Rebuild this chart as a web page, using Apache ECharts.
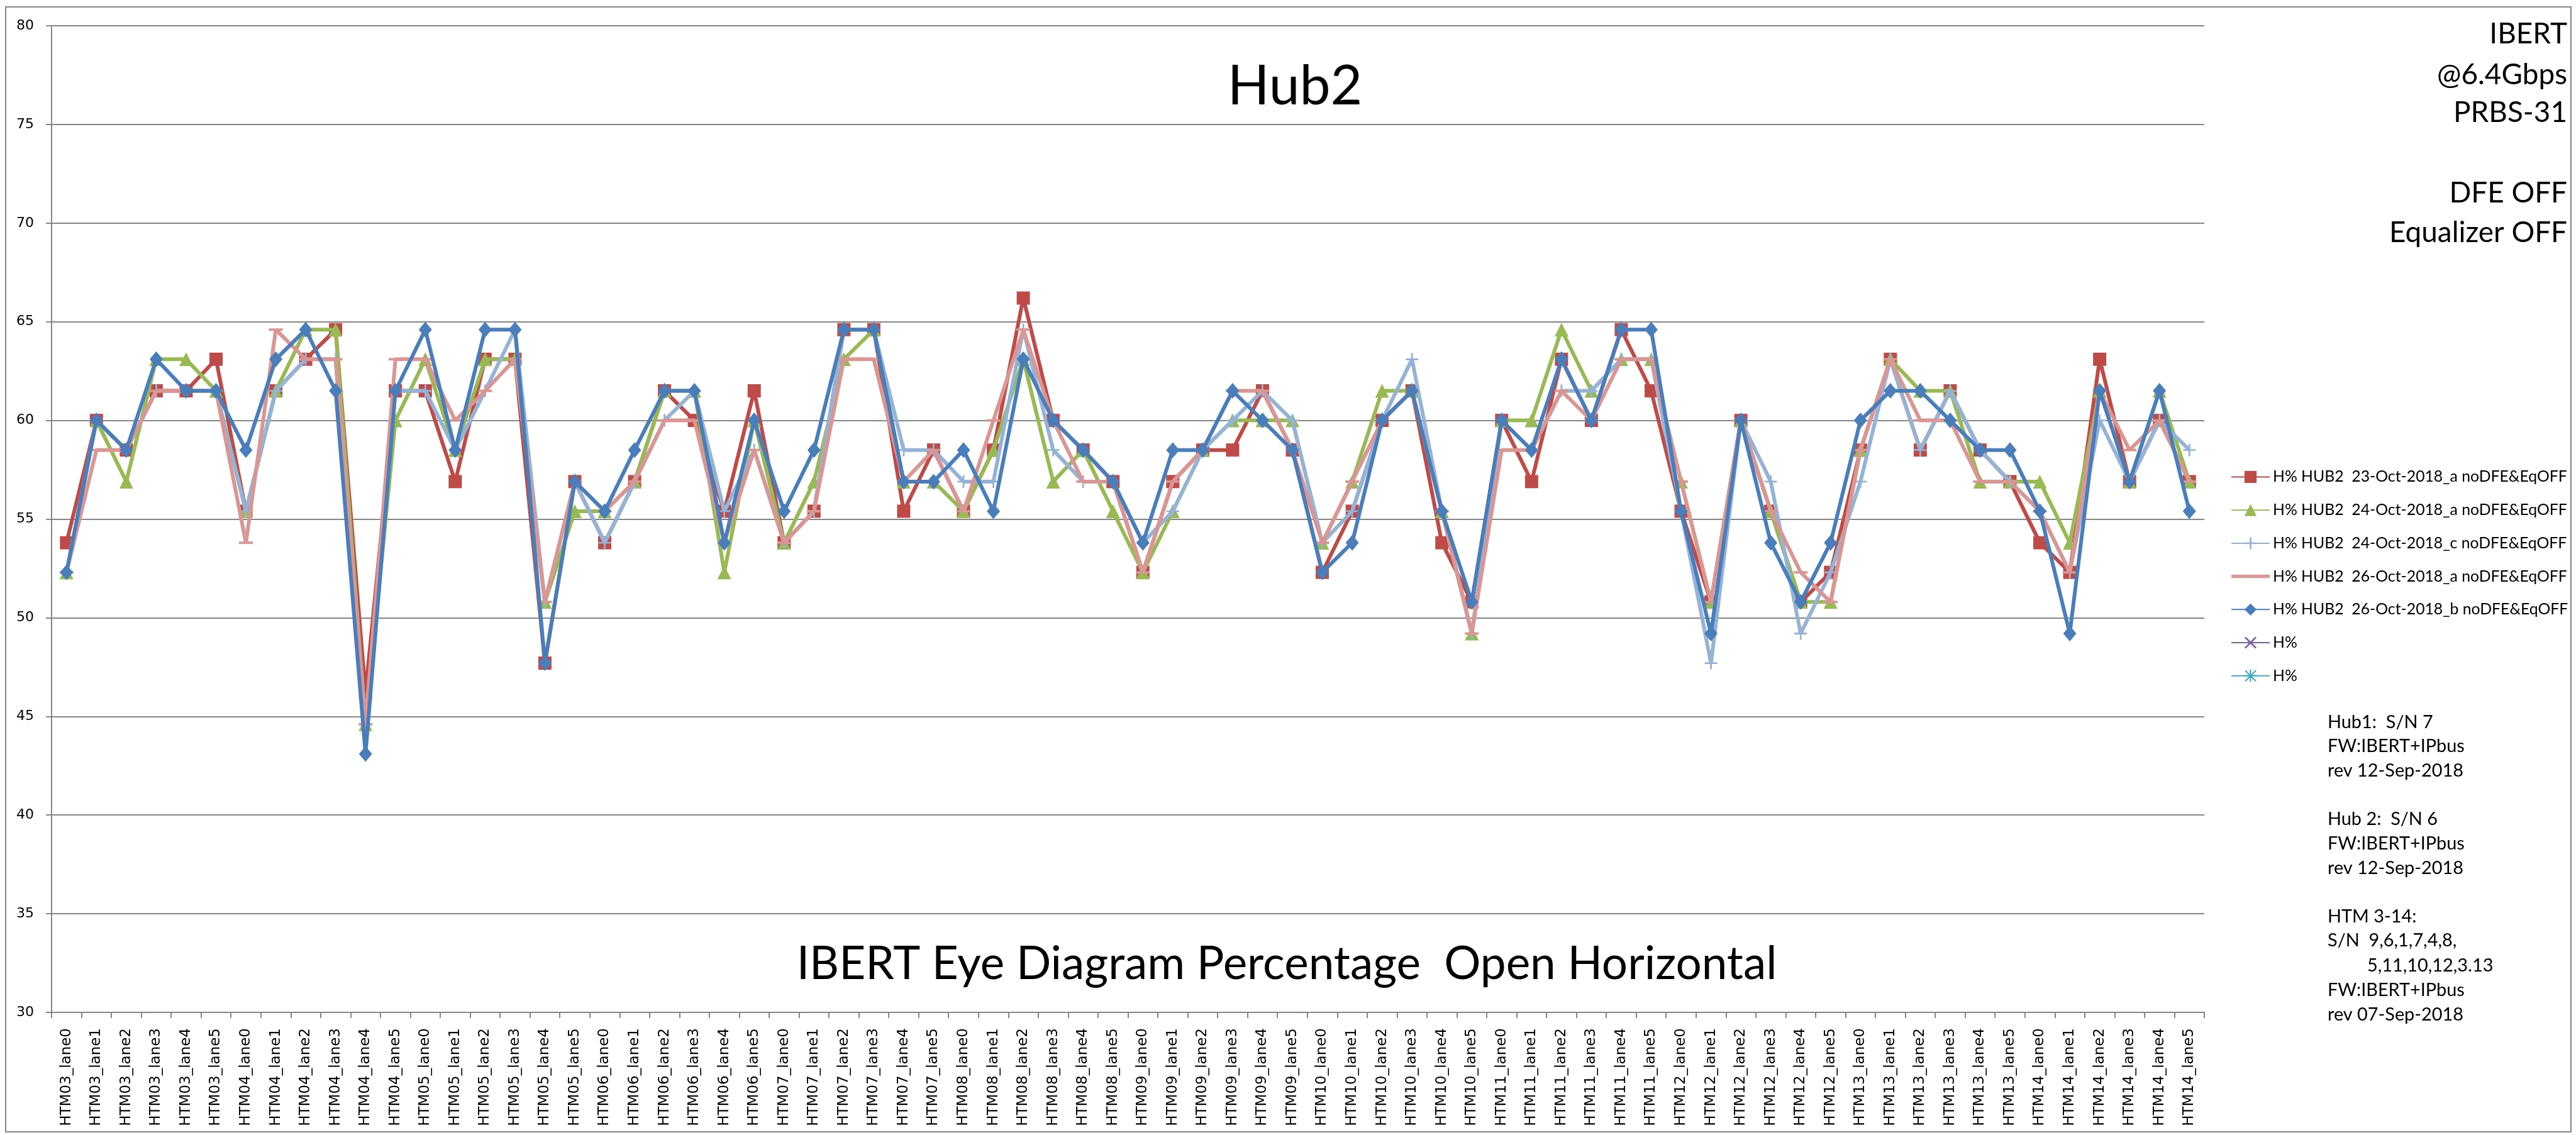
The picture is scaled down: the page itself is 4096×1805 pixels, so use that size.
<!DOCTYPE html>
<html><head><meta charset="utf-8">
<script src="https://cdn.jsdelivr.net/npm/echarts@6/dist/echarts.min.js"></script>
<style>html,body{margin:0;padding:0;background:#fff;overflow:hidden}#c{width:4096px;height:1805px}</style>
</head><body><div id="c"></div>
<script>
const categories = [
 "HTM03_lane0","HTM03_lane1","HTM03_lane2","HTM03_lane3","HTM03_lane4","HTM03_lane5",
 "HTM04_lane0","HTM04_lane1","HTM04_lane2","HTM04_lane3","HTM04_lane4","HTM04_lane5",
 "HTM05_lane0","HTM05_lane1","HTM05_lane2","HTM05_lane3","HTM05_lane4","HTM05_lane5",
 "HTM06_lane0","HTM06_lane1","HTM06_lane2","HTM06_lane3","HTM06_lane4","HTM06_lane5",
 "HTM07_lane0","HTM07_lane1","HTM07_lane2","HTM07_lane3","HTM07_lane4","HTM07_lane5",
 "HTM08_lane0","HTM08_lane1","HTM08_lane2","HTM08_lane3","HTM08_lane4","HTM08_lane5",
 "HTM09_lane0","HTM09_lane1","HTM09_lane2","HTM09_lane3","HTM09_lane4","HTM09_lane5",
 "HTM10_lane0","HTM10_lane1","HTM10_lane2","HTM10_lane3","HTM10_lane4","HTM10_lane5",
 "HTM11_lane0","HTM11_lane1","HTM11_lane2","HTM11_lane3","HTM11_lane4","HTM11_lane5",
 "HTM12_lane0","HTM12_lane1","HTM12_lane2","HTM12_lane3","HTM12_lane4","HTM12_lane5",
 "HTM13_lane0","HTM13_lane1","HTM13_lane2","HTM13_lane3","HTM13_lane4","HTM13_lane5",
 "HTM14_lane0","HTM14_lane1","HTM14_lane2","HTM14_lane3","HTM14_lane4","HTM14_lane5"
];

// H% HUB2 23-Oct-2018_a (red squares)
const oct23a = [
 53.8,60.0,58.5,61.5,61.5,63.1, 55.4,61.5,63.1,64.6,46.2,61.5,
 61.5,56.9,63.1,63.1,47.7,56.9, 53.8,56.9,61.5,60.0,55.4,61.5,
 53.8,55.4,64.6,64.6,55.4,58.5, 55.4,58.5,66.2,60.0,58.5,56.9,
 52.3,56.9,58.5,58.5,61.5,58.5, 52.3,55.4,60.0,61.5,53.8,50.8,
 60.0,56.9,63.1,60.0,64.6,61.5, 55.4,50.8,60.0,55.4,50.8,52.3,
 58.5,63.1,58.5,61.5,58.5,56.9, 53.8,52.3,63.1,56.9,60.0,56.9
];
// H% HUB2 24-Oct-2018_a (green triangles)
const oct24a = [
 52.3,60.0,56.9,63.1,63.1,61.5, 55.4,61.5,64.6,64.6,44.6,60.0,
 63.1,58.5,63.1,63.1,50.8,55.4, 55.4,56.9,61.5,61.5,52.3,60.0,
 53.8,56.9,63.1,64.6,56.9,56.9, 55.4,58.5,63.1,56.9,58.5,55.4,
 52.3,55.4,58.5,60.0,60.0,60.0, 53.8,56.9,61.5,61.5,55.4,49.2,
 60.0,60.0,64.6,61.5,63.1,63.1, 56.9,50.8,60.0,55.4,50.8,50.8,
 58.5,63.1,61.5,61.5,56.9,56.9, 56.9,53.8,61.5,56.9,61.5,56.9
];
// H% HUB2 24-Oct-2018_c (light blue plus)
const oct24c = [
 52.3,60.0,58.5,61.5,61.5,61.5, 55.4,61.5,63.1,63.1,44.6,61.5,
 61.5,58.5,61.5,64.6,50.8,56.9, 53.8,56.9,60.0,61.5,55.4,58.5,
 53.8,55.4,64.6,64.6,58.5,58.5, 56.9,56.9,64.6,58.5,56.9,56.9,
 53.8,55.4,58.5,60.0,61.5,60.0, 53.8,55.4,60.0,63.1,55.4,49.2,
 60.0,58.5,61.5,61.5,63.1,63.1, 55.4,47.7,60.0,56.9,49.2,52.3,
 56.9,63.1,58.5,61.5,58.5,56.9, 55.4,52.3,60.0,56.9,60.0,58.5
];
// H% HUB2 26-Oct-2018_a (pink, dash marker)
const oct26a = [
 52.3,58.5,58.5,61.5,61.5,61.5, 53.8,64.6,63.1,63.1,44.6,63.1,
 63.1,60.0,61.5,63.1,50.8,56.9, 55.4,56.9,60.0,60.0,53.8,58.5,
 53.8,55.4,63.1,63.1,56.9,58.5, 55.4,60.0,64.6,60.0,56.9,56.9,
 52.3,56.9,58.5,61.5,61.5,58.5, 53.8,56.9,60.0,61.5,55.4,49.2,
 58.5,58.5,61.5,60.0,63.1,63.1, 56.9,50.8,60.0,55.4,52.3,50.8,
 58.5,63.1,60.0,60.0,56.9,56.9, 55.4,52.3,61.5,58.5,60.0,56.9
];
// H% HUB2 26-Oct-2018_b (blue diamonds)
const oct26b = [
 52.3,60.0,58.5,63.1,61.5,61.5, 58.5,63.1,64.6,61.5,43.1,61.5,
 64.6,58.5,64.6,64.6,47.7,56.9, 55.4,58.5,61.5,61.5,53.8,60.0,
 55.4,58.5,64.6,64.6,56.9,56.9, 58.5,55.4,63.1,60.0,58.5,56.9,
 53.8,58.5,58.5,61.5,60.0,58.5, 52.3,53.8,60.0,61.5,55.4,50.8,
 60.0,58.5,63.1,60.0,64.6,64.6, 55.4,49.2,60.0,53.8,50.8,53.8,
 60.0,61.5,61.5,60.0,58.5,58.5, 55.4,49.2,61.5,56.9,61.5,55.4
];
const hEmptyA = [];
const hEmptyB = [];

const seriesNames = [
 "H% HUB2  23-Oct-2018_a noDFE&EqOFF",
 "H% HUB2  24-Oct-2018_a noDFE&EqOFF",
 "H% HUB2  24-Oct-2018_c noDFE&EqOFF",
 "H% HUB2  26-Oct-2018_a noDFE&EqOFF",
 "H% HUB2  26-Oct-2018_b noDFE&EqOFF",
 "H%",
 "H% "
];
const yMin = 30, yMax = 80, yStep = 5;

const topRightLines = ["IBERT","@6.4Gbps","PRBS-31","DFE OFF","Equalizer OFF"];
const notesLines = ["Hub1:  S/N 7","FW:IBERT+IPbus","rev 12-Sep-2018","Hub 2:  S/N 6","FW:IBERT+IPbus","rev 12-Sep-2018","HTM 3-14:","S/N  9,6,1,7,4,8,","5,11,10,12,3.13","FW:IBERT+IPbus","rev 07-Sep-2018"];
const titleText = "Hub2";
const subTitleText = "IBERT Eye Diagram Percentage  Open Horizontal";

const FONT = "Lato, 'Open Sans', sans-serif";
const AXFONT = "'DejaVu Sans', Verdana, sans-serif";
function fit(text, family, target){
  const c = document.createElement('canvas').getContext('2d');
  c.font = '100px ' + family;
  return 100 * target / c.measureText(text).width;
}
const titleSize = fit(titleText, FONT, 214.7);
const subSize = fit(subTitleText, FONT, 1559);
const trSize = fit("Equalizer OFF", FONT, 283);
const noteSize = fit("rev 12-Sep-2018", FONT, 216);
const legSize = fit(seriesNames[3], FONT, 468);

const plusPath = 'path://M4.3,0H5.7V4.3H10V5.7H5.7V10H4.3V5.7H0V4.3H4.3Z';
const dashPath = 'path://M0,0H10V1.8H0Z';
const lineIconPath = 'path://M0,0H61V5.5H0Z';
const xPath = 'path://M1,0L5,4L9,0L10,1L6,5L10,9L9,10L5,6L1,10L0,9L4,5L0,1Z';
const starPath = 'path://M4.4,0H5.6V4.4H10V5.6H5.6V10H4.4V5.6H0V4.4H4.4Z M1,0.2L5,4.2L9,0.2L9.8,1L5.8,5L9.8,9L9,9.8L5,5.8L1,9.8L0.2,9L4.2,5L0.2,1Z';

function mk(name, data, color, symbol, size, z){
  return {
    name, type:'line', data, z,
    symbol, symbolSize:size, showSymbol:true,
    lineStyle:{color, width:6},
    itemStyle:{color},
    emphasis:{disabled:true},
    animation:false
  };
}

const series = [
  mk(seriesNames[0], oct23a, '#BE4B48', 'rect', 21, 2),
  mk(seriesNames[1], oct24a, '#98B954', 'triangle', 22, 3),
  mk(seriesNames[2], oct24c, '#95B3D7', plusPath, 20, 4),
  mk(seriesNames[3], oct26a, '#D99694', dashPath, [22,4], 5),
  mk(seriesNames[4], oct26b, '#4A7EBB', 'diamond', [21,25], 6),
  mk(seriesNames[5], hEmptyA, '#7D60A0', xPath, 18, 7),
  mk(seriesNames[6], hEmptyB, '#46AAC5', starPath, 18, 8)
];

const legendData = seriesNames.map((n,i)=> i===3 ? {name:n, icon:lineIconPath} : {name:n});

const graphics = [
  {type:'rect', shape:{x:9,y:11,width:4079,height:1789}, style:{fill:null, stroke:'#868686', lineWidth:2}, silent:true},
  {type:'text', x:2059, y:138, style:{text:titleText, fontFamily:FONT, fontSize:titleSize, fill:'#000', textAlign:'center', align:'center', textVerticalAlign:'middle', verticalAlign:'middle'}},
  {type:'text', x:2046, y:1533, style:{text:subTitleText, fontFamily:FONT, fontSize:subSize, fill:'#000', textAlign:'center', align:'center', textVerticalAlign:'middle', verticalAlign:'middle'}}
];
const trY = [54.4,119.4,179.1,307.4,369.8];
topRightLines.forEach((t,i)=>graphics.push({type:'text', x:4082, y:trY[i], style:{text:t, fontFamily:FONT, fontSize:trSize, fill:'#000', textAlign:'right', align:'right', textVerticalAlign:'middle', verticalAlign:'middle'}}));
const noteY = [1148.5,1186.8,1226,1302.6,1341.8,1380.2,1457.7,1496,1536,1574.4,1613.6];
const noteX = [3701,3701,3701,3701,3701,3701,3701,3701,3764,3701,3701];
notesLines.forEach((t,i)=>graphics.push({type:'text', x:noteX[i], y:noteY[i], style:{text:t, fontFamily:FONT, fontSize:noteSize, fill:'#000', textAlign:'left', align:'left', textVerticalAlign:'middle', verticalAlign:'middle'}}));

const chart = echarts.init(document.getElementById('c'), null, {renderer:'canvas'});
chart.setOption({
  animation:false,
  backgroundColor:'#fff',
  grid:{left:82, right:591, top:41, bottom:195, containLabel:false},
  legend:{
    orient:'vertical', left:3547, top:746, itemWidth:61, itemHeight:24, itemGap:27.7, padding:0,
    selectedMode:false,
    textStyle:{fontFamily:FONT, fontSize:legSize, color:'#000', lineHeight:24},
    data:legendData
  },
  xAxis:{
    type:'category', data:categories, boundaryGap:true,
    axisLine:{show:true, lineStyle:{color:'#868686', width:2}},
    axisTick:{show:true, alignWithLabel:false, interval:0, length:9, lineStyle:{color:'#868686', width:2}},
    axisLabel:{interval:0, rotate:90, margin:25, fontFamily:AXFONT, fontSize:23, color:'#000'},
    splitLine:{show:false}
  },
  yAxis:{
    type:'value', min:yMin, max:yMax, interval:yStep,
    axisLine:{show:true, lineStyle:{color:'#868686', width:2}},
    axisTick:{show:true, length:9, lineStyle:{color:'#868686', width:2}},
    axisLabel:{margin:28, fontFamily:AXFONT, fontSize:22, color:'#000'},
    splitLine:{show:true, lineStyle:{color:'#868686', width:2}}
  },
  graphic:graphics,
  series
});
</script></body></html>
